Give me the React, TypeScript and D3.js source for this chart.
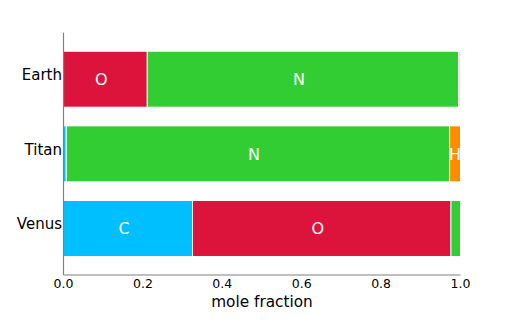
import React from "react";
import * as d3 from "d3";

const planets = ["Venus", "Titan", "Earth"];
const elements = ["C", "O", "N", "H", "Ar"];
const venus = [0.325, 0.651, 0.024, 0, 0];
const titan = [0.007, 0, 0.9655, 0.0275, 0];
const earth = [0, 0.211, 0.784, 0, 0.005];
const colors: Record<string, string> = {
  C: "#00bfff",
  O: "#dc143c",
  N: "#32cd32",
  H: "#ff8c00",
  Ar: "#f5dcc0",
};
const xTicks = [0, 0.2, 0.4, 0.6, 0.8, 1.0];

export default function App() {
  const W = 512, H = 324;
  const x = d3.scaleLinear().domain([0, 1]).range([63.5, 460.5]);
  const y = d3.scaleLinear().domain([-0.623, 2.623]).range([275, 32.7]);
  const barH = 0.75;
  const rows = [venus, titan, earth];
  const font = "DejaVu Sans, sans-serif";

  const segs: any[] = [];
  rows.forEach((vals, i) => {
    let acc = 0;
    vals.forEach((v, j) => {
      if (v > 0) segs.push({ i, el: elements[j], x0: acc, x1: acc + v, v });
      acc += v;
    });
  });

  return (
    <svg width={W} height={H} style={{ position: "absolute", left: 0, top: 0 }}>
      <rect width={W} height={H} fill="white" />
      {segs.map((s, k) => (
        <rect
          key={k}
          x={x(s.x0)}
          y={y(s.i + barH / 2)}
          width={x(s.x1) - x(s.x0)}
          height={y(s.i - barH / 2) - y(s.i + barH / 2)}
          fill={colors[s.el]}
          stroke="white"
          strokeWidth={1}
        />
      ))}
      {segs
        .filter((s) => s.v >= 0.025)
        .map((s, k) => (
          <text
            key={"t" + k}
            x={(x(s.x0) + x(s.x1)) / 2 - (s.v > 0.1 ? 4 : 0)}
            y={y(s.i)}
            dy="0.36em"
            textAnchor="middle"
            fill="white"
            fontFamily={font}
            fontSize={16}
          >
            {s.el}
          </text>
        ))}
      <line x1={63.5} x2={63.5} y1={32.7} y2={275} stroke="#808080" strokeWidth={1.2} />
      <line x1={63.5} x2={460.5} y1={275} y2={275} stroke="#808080" strokeWidth={1.2} />
      {xTicks.map((t) => (
        <text
          key={t}
          x={x(t)}
          y={288.3}
          textAnchor="middle"
          fontFamily={font}
          fontSize={12.5}
          fill="black"
        >
          {t.toFixed(1)}
        </text>
      ))}
      {planets.map((p, i) => (
        <text
          key={p}
          x={62}
          y={y(i) + 1}
          textAnchor="end"
          fontFamily={font}
          fontSize={15}
          fill="black"
        >
          {p}
        </text>
      ))}
      <text
        x={x(0.5)}
        y={307}
        textAnchor="middle"
        fontFamily={font}
        fontSize={15.3}
        fill="black"
      >
        mole fraction
      </text>
    </svg>
  );
}
